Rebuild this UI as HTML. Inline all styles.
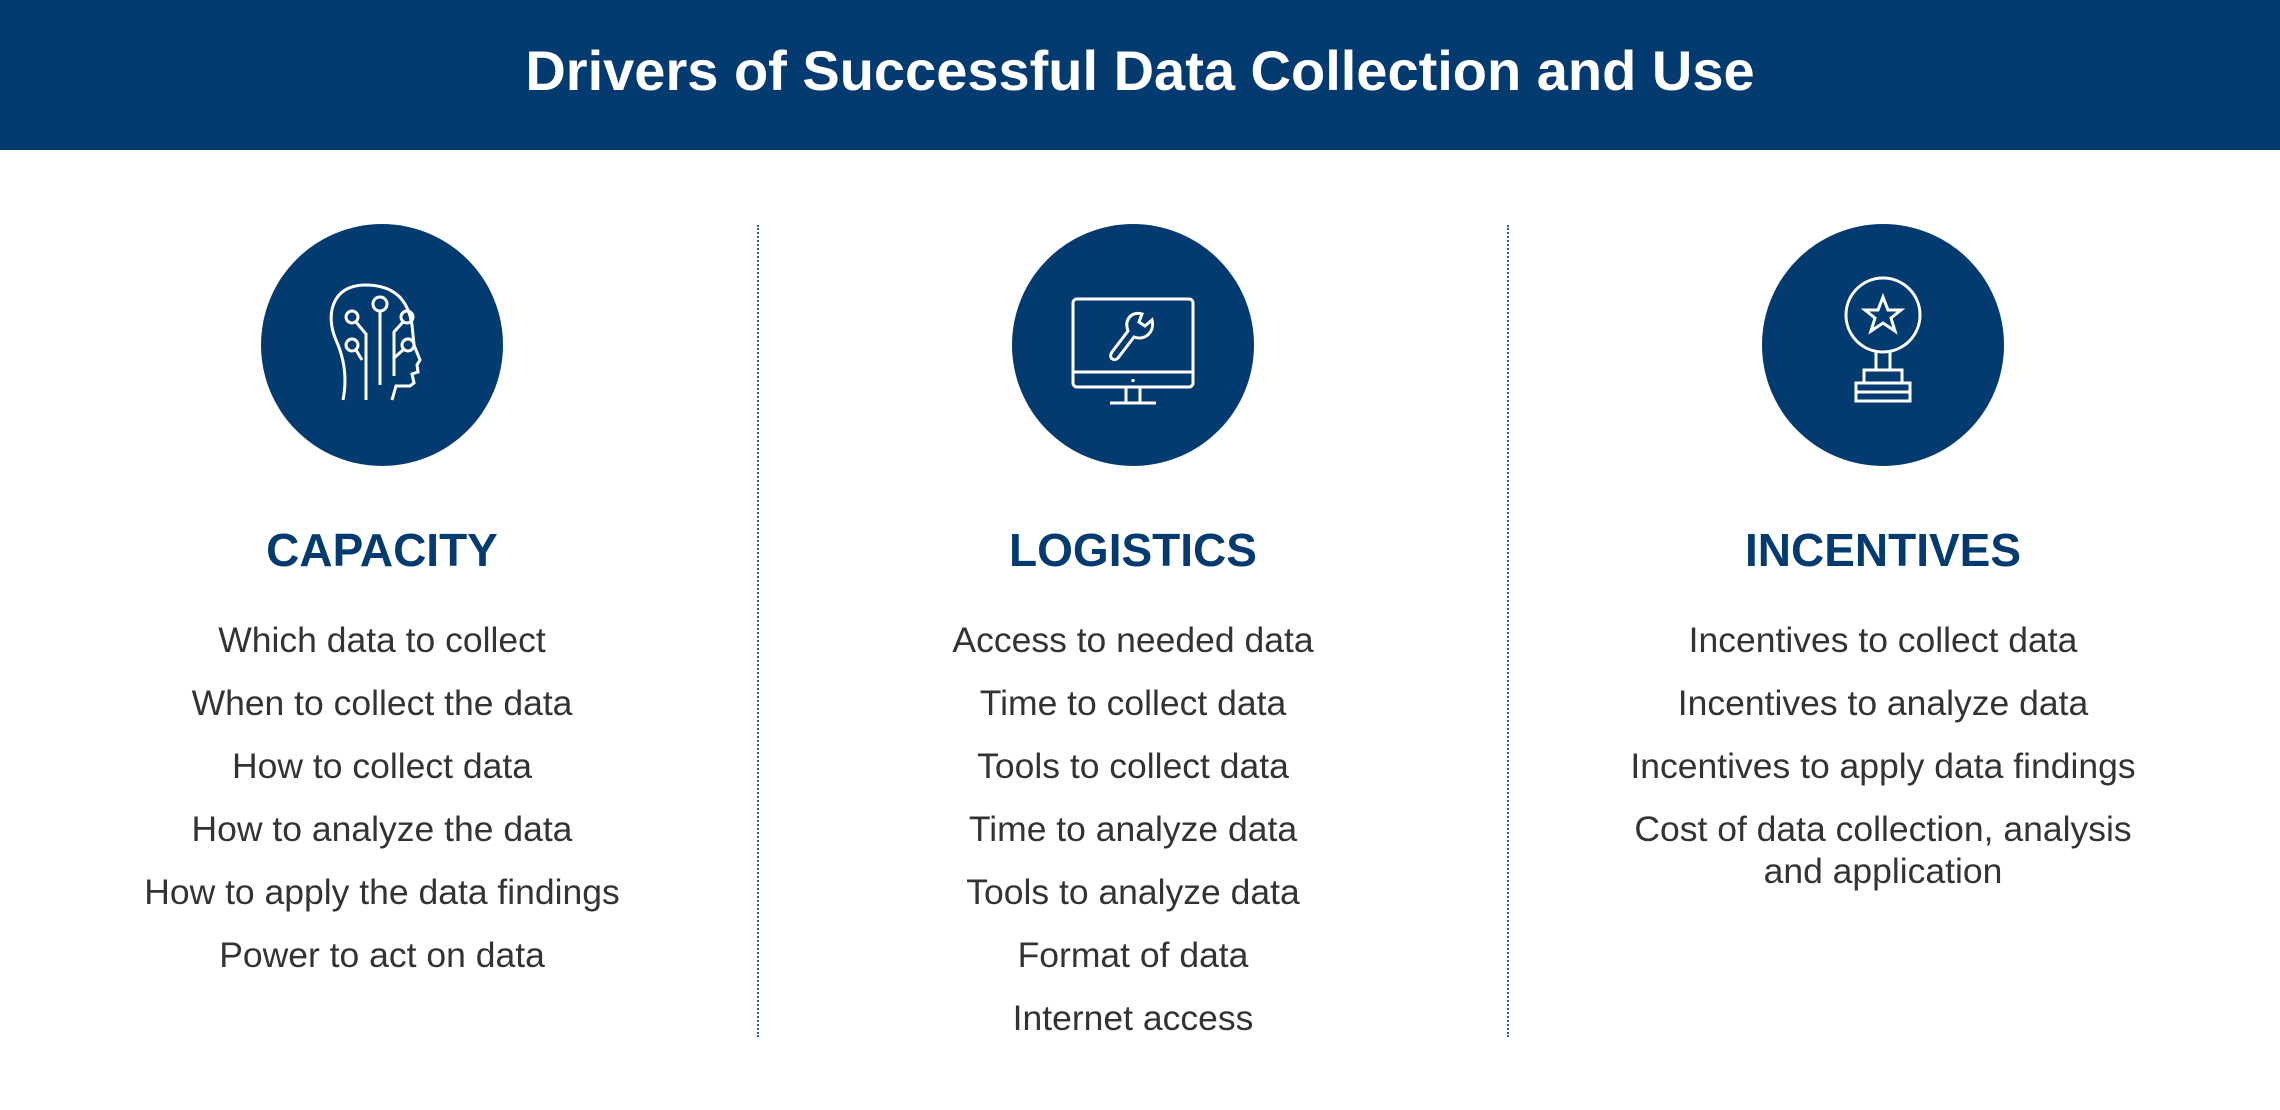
<!DOCTYPE html>
<html><head><meta charset="utf-8"><style>
body{margin:0;width:2280px;height:1110px;background:#fff;position:relative;overflow:hidden;font-family:"Liberation Sans",Arial,sans-serif}
.hdr{position:absolute;left:0;top:0;width:2280px;height:150px;background:#033a70;color:#fff;font-weight:bold;font-size:56px;text-align:center;line-height:142px}
.col{position:absolute;top:505px;width:700px;text-align:center}
.col h2{margin:0 0 14px 0;color:#033a70;font-size:46px;font-weight:bold;line-height:90px}
.col p{margin:0;color:#333;font-size:35.5px;line-height:63px}
.dl{position:absolute;top:225px;height:812px;border-left:2px dotted #2a5a8c}
</style></head><body>
<div class="hdr">Drivers of Successful Data Collection and Use</div>
<div class="dl" style="left:757px"></div>
<div class="dl" style="left:1507px"></div>
<svg width="2280" height="1110" style="position:absolute;left:0;top:0" fill="none" stroke="#fff" stroke-width="3">
<circle cx="382" cy="345" r="121" fill="#033a70" stroke="none"/>
<circle cx="1133" cy="345" r="121" fill="#033a70" stroke="none"/>
<circle cx="1883" cy="345" r="121" fill="#033a70" stroke="none"/>
<path d="M343 400 C347 380 345 360 336 340 C325 315 332 285 365 285 C395 285 408 300 412 325 L414 345 L420 360 L417 365 L418 372 L412 374 L414 383 L410 386 L396 386 L392 400"/>
<circle cx="380" cy="304" r="7"/><line x1="380" y1="311" x2="380" y2="385"/>
<circle cx="352" cy="317" r="6"/><path d="M356 322 L366 334 L366 400"/>
<circle cx="352" cy="345" r="6"/><path d="M356 350 L362 360"/>
<circle cx="407" cy="317" r="6"/><path d="M403 322 L394 332 L394 376"/>
<circle cx="408" cy="345" r="6"/><path d="M403 350 L394 358"/>
<rect x="1073" y="299" width="120" height="88" rx="4"/>
<line x1="1073" y1="372" x2="1193" y2="372"/>
<line x1="1133" y1="379" x2="1133" y2="382"/>
<path d="M1126 387 L1126 402 M1140 387 L1140 402 M1110 403 L1156 403"/>
<path d="M1128 331 L1112 352 C1108 358 1114 362 1118 358 L1134 337 C1145 341 1155 332 1152 320 L1145 326 L1139 322 L1142 314 C1131 311 1124 320 1128 331 Z"/>
<circle cx="1883" cy="315" r="37"/>
<path d="M1883 297 L1888 310 L1901 310 L1891 318 L1895 331 L1883 323 L1871 331 L1875 318 L1865 310 L1878 310 Z"/>
<path d="M1876 352 L1876 370 M1890 352 L1890 370"/>
<rect x="1864" y="370" width="38" height="13"/>
<rect x="1856" y="383" width="54" height="18"/>
<line x1="1856" y1="392" x2="1910" y2="392"/>
</svg>
<div class="col" style="left:32px"><h2>CAPACITY</h2>
<p>Which data to collect</p><p>When to collect the data</p><p>How to collect data</p><p>How to analyze the data</p><p>How to apply the data findings</p><p>Power to act on data</p></div>
<div class="col" style="left:783px"><h2>LOGISTICS</h2>
<p>Access to needed data</p><p>Time to collect data</p><p>Tools to collect data</p><p>Time to analyze data</p><p>Tools to analyze data</p><p>Format of data</p><p>Internet access</p></div>
<div class="col" style="left:1533px"><h2>INCENTIVES</h2>
<p>Incentives to collect data</p><p>Incentives to analyze data</p><p>Incentives to apply data findings</p><p style="line-height:42px;margin-top:10px">Cost of data collection, analysis<br>and application</p></div>
</body></html>
